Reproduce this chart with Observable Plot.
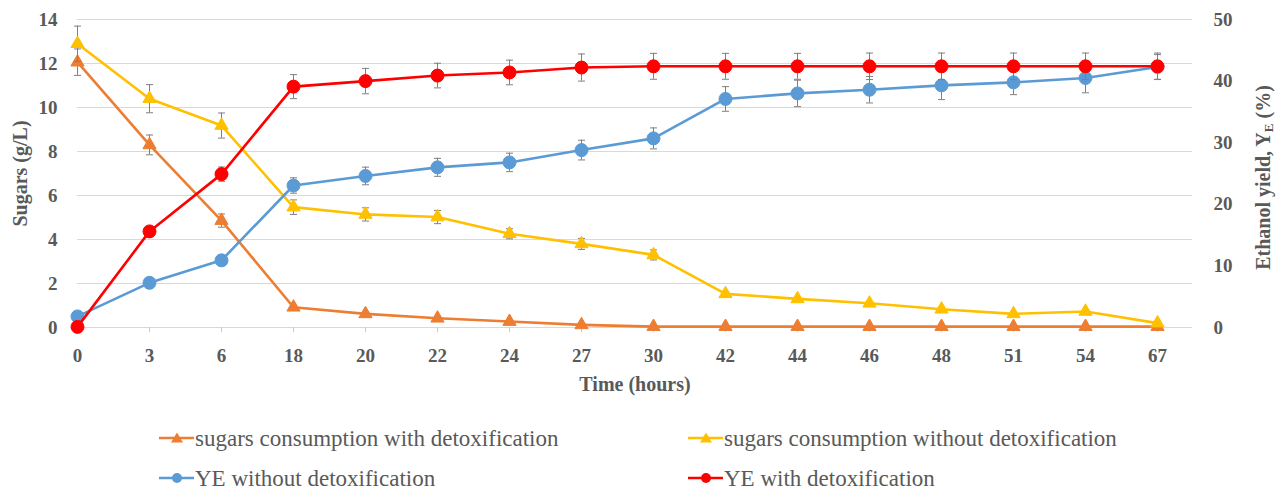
<!DOCTYPE html>
<html>
<head>
<meta charset="utf-8">
<script src="https://cdn.jsdelivr.net/npm/d3@7"></script>
<script src="https://cdn.jsdelivr.net/npm/@observablehq/plot@0.6"></script>
<style>
  html, body { margin: 0; padding: 0; background: #fff; }
  #wrap { position: relative; width: 1282px; height: 491px; overflow: hidden; }
  .leg { position: absolute; display: flex; align-items: center; font-family: "Liberation Serif", serif; font-size: 23px; color: #595959; white-space: nowrap; line-height: 1; }
  .leg svg { display: block; margin-right: 1px; }
</style>
</head>
<body>
<div id="wrap"></div>
<script>
// ---- data ----
const hours = ["0","3","6","18","20","22","24","27","30","42","44","46","48","51","54","67"];
// sugars (g/L), left axis
const sugarsWith      = [12.06, 8.3, 4.86, 0.92, 0.62, 0.42, 0.27, 0.12, 0.04, 0.04, 0.04, 0.04, 0.04, 0.04, 0.04, 0.04];
const sugarsWithErr   = [0.6, 0.45, 0.3, null, null, null, null, null, null, null, null, null, null, null, null, null];
const sugarsWithout   = [12.9, 10.4, 9.18, 5.47, 5.14, 5.02, 4.26, 3.8, 3.3, 1.53, 1.3, 1.1, 0.83, 0.62, 0.73, 0.2];
const sugarsWithoutErr= [0.8, 0.64, 0.57, 0.33, 0.3, 0.3, 0.23, 0.25, 0.23, null, null, null, null, null, null, null];
// ethanol yield YE (%), right axis
const yeWithout    = [1.8, 7.25, 10.9, 23.05, 24.6, 26.0, 26.8, 28.8, 30.7, 37.1, 38.0, 38.6, 39.3, 39.8, 40.5, 42.3];
const yeWithoutErr = [null, null, null, 1.25, 1.43, 1.46, 1.5, 1.6, 1.7, 2.0, 2.15, 2.15, 2.3, 2.0, 2.4, 2.0];
const yeWith       = [0.1, 15.6, 24.9, 39.1, 40.0, 40.9, 41.4, 42.2, 42.4, 42.4, 42.4, 42.4, 42.4, 42.4, 42.4, 42.4];
const yeWithErr    = [null, null, 1.16, 1.95, 2.06, 2.0, 2.0, 2.2, 2.1, 2.1, 2.1, 2.15, 2.15, 2.15, 2.15, 2.15];
const leftTicks  = [0, 2, 4, 6, 8, 10, 12, 14];
const rightTicks = [0, 10, 20, 30, 40, 50];
const legendNames = [
  "sugars consumption with detoxification",
  "sugars consumption without detoxification",
  "YE without detoxification",
  "YE with detoxification"
];

// ---- styling ----
const k = 14 / 50; // right-axis value -> left-axis units
const seriesDefs = [
  {name: legendNames[0], values: sugarsWith,    err: sugarsWithErr,    k: 1, color: "#ED7D31", symbol: "triangle", r: 4.9},
  {name: legendNames[1], values: sugarsWithout, err: sugarsWithoutErr, k: 1, color: "#FFC000", symbol: "triangle", r: 4.9},
  {name: legendNames[2], values: yeWithout,     err: yeWithoutErr,     k: k, color: "#5B9BD5", symbol: "circle",   r: 6.5},
  {name: legendNames[3], values: yeWith,        err: yeWithErr,        k: k, color: "#FF0000", symbol: "circle",   r: 6.5}
];
const cap = { draw(ctx) { ctx.moveTo(-3.5, 0); ctx.lineTo(3.5, 0); } };
const errColor = "#7f7f7f";

const marks = [
  Plot.gridY(leftTicks, {stroke: "#d9d9d9", strokeOpacity: 1, strokeWidth: 1.2}),
  Plot.axisX({tickSize: 5, tickPadding: 16, stroke: "#c8c8c8", label: null, fontSize: 19}),
  Plot.axisY(leftTicks, {anchor: "left", tickSize: 0, tickPadding: 20, label: null, fontSize: 19}),
  Plot.axisY(rightTicks.map(v => v * k), {anchor: "right", tickSize: 0, tickPadding: 21, label: null, fontSize: 19, tickFormat: d => String(Math.round(d / k))}),
  Plot.text(["Sugars (g/L)"], {text: d => d, frameAnchor: "left", dx: -57, rotate: -90, textAnchor: "middle", fontSize: 20}),
  Plot.text(["Ethanol yield, YE (%)"], {text: d => d, frameAnchor: "right", dx: 71, dy: 4, rotate: -90, textAnchor: "middle", fontSize: 20, className: "ylab2"}),
  Plot.text(["Time (hours)"], {text: d => d, frameAnchor: "bottom", dy: 63, fontSize: 20})
];

for (const s of seriesDefs) {
  const d = hours.map((h, i) => ({hour: h, v: s.values[i] * s.k, e: s.err[i] == null ? null : s.err[i] * s.k}));
  const de = d.filter(r => r.e != null);
  marks.push(
    Plot.line(d, {x: "hour", y: "v", stroke: s.color, strokeWidth: 2.6}),
    Plot.ruleX(de, {x: "hour", y1: r => r.v - r.e, y2: r => r.v + r.e, stroke: errColor, strokeWidth: 1}),
    Plot.dot(de, {x: "hour", y: r => r.v + r.e, symbol: cap, fill: "none", stroke: errColor, strokeWidth: 1}),
    Plot.dot(de, {x: "hour", y: r => r.v - r.e, symbol: cap, fill: "none", stroke: errColor, strokeWidth: 1}),
    Plot.dot(d, {x: "hour", y: "v", symbol: s.symbol, r: s.r, fill: s.color, stroke: s.color, strokeWidth: 1})
  );
}

const chart = Plot.plot({
  width: 1282,
  height: 400,
  marginLeft: 77,
  marginRight: 90,
  marginTop: 19,
  marginBottom: 73,
  style: {fontFamily: "'Liberation Serif', serif", fontSize: "19px", fontWeight: "bold", color: "#595959", background: "#fff", overflow: "visible"},
  x: {type: "point", domain: hours, padding: 0, insetRight: 35},
  y: {domain: [0, 14]},
  marks
});

// subscript E in right axis label
const lab = chart.querySelector(".ylab2 text");
if (lab) {
  lab.textContent = "";
  const ns = "http://www.w3.org/2000/svg";
  const t1 = document.createElementNS(ns, "tspan"); t1.textContent = "Ethanol yield, Y";
  const t2 = document.createElementNS(ns, "tspan"); t2.textContent = "E"; t2.setAttribute("font-size", "13px"); t2.setAttribute("dy", "3");
  const t3 = document.createElementNS(ns, "tspan"); t3.textContent = " (%)"; t3.setAttribute("dy", "-3");
  lab.append(t1, t2, t3);
}

const wrap = document.getElementById("wrap");
wrap.appendChild(chart);

// legend (below the SVG)
const legPos = [[159, 438], [688, 438], [159, 478], [688, 478]];
seriesDefs.forEach((s, i) => {
  const div = document.createElement("div");
  div.className = "leg";
  div.style.left = legPos[i][0] + "px";
  div.style.top = (legPos[i][1] - 13) + "px";
  div.style.height = "26px";
  const sym = s.symbol === "triangle"
    ? `<path d="M18,2.5 L24,12.5 L12,12.5 Z" fill="${s.color}"/>`
    : `<circle cx="18" cy="8" r="5" fill="${s.color}"/>`;
  div.innerHTML = `<svg width="35" height="16"><line x1="0" x2="35" y1="8" y2="8" stroke="${s.color}" stroke-width="2.6"/>${sym}</svg><span>${s.name}</span>`;
  wrap.appendChild(div);
});
</script>
</body>
</html>
